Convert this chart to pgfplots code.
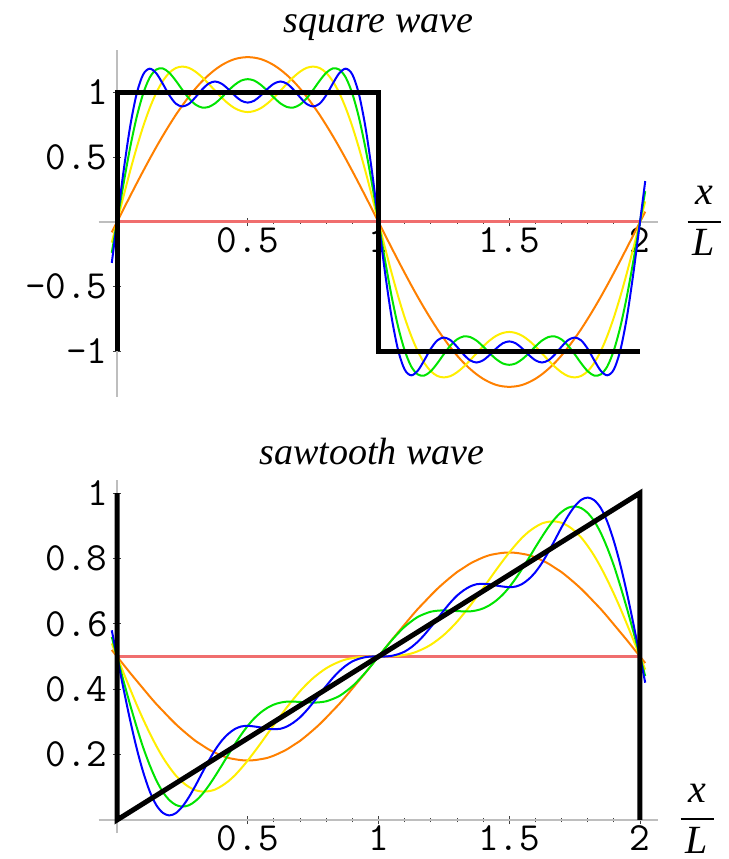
\documentclass[border=0pt]{standalone}
\usepackage{pgfplots}
\pgfplotsset{compat=1.18}
\usepackage{pgfplotstable}
\usepackage{fontspec}
\setmainfont{Liberation Serif}

\definecolor{axisgray}{RGB}{190,190,190}
\definecolor{ordzero}{RGB}{240,110,110}
\definecolor{ordone}{RGB}{255,128,0}
\definecolor{ordtwo}{RGB}{255,238,0}
\definecolor{ordthree}{RGB}{0,228,0}
\definecolor{ordfour}{RGB}{0,0,255}

% Partial Fourier sums of the square wave, 1 to 4 odd harmonics
\pgfplotstableread{
x o y g b
-0.02 -0.080 -0.159 -0.238 -0.316
0 0 0 0 0
0.025 0.100 0.199 0.296 0.391
0.05 0.199 0.392 0.572 0.734
0.075 0.297 0.573 0.808 0.989
0.1 0.393 0.737 0.991 1.139
0.125 0.487 0.879 1.115 1.184
0.15 0.578 0.997 1.177 1.149
0.175 0.665 1.088 1.186 1.068
0.2 0.748 1.152 1.152 0.979
0.225 0.827 1.189 1.091 0.914
0.25 0.900 1.200 1.020 0.892
0.275 0.968 1.190 0.955 0.912
0.3 1.030 1.161 0.907 0.963
0.325 1.086 1.119 0.884 1.022
0.35 1.134 1.068 0.888 1.068
0.375 1.176 1.014 0.916 1.085
0.4 1.211 0.961 0.961 1.068
0.425 1.238 0.915 1.013 1.027
0.45 1.258 0.879 1.059 0.977
0.475 1.269 0.857 1.092 0.937
0.5 1.273 0.849 1.103 0.922
0.525 1.269 0.857 1.092 0.937
0.55 1.258 0.879 1.059 0.977
0.575 1.238 0.915 1.013 1.027
0.6 1.211 0.961 0.961 1.068
0.625 1.176 1.014 0.916 1.085
0.65 1.134 1.068 0.888 1.068
0.675 1.086 1.119 0.884 1.022
0.7 1.030 1.161 0.907 0.963
0.725 0.968 1.190 0.955 0.912
0.75 0.900 1.200 1.020 0.892
0.775 0.827 1.189 1.091 0.914
0.8 0.748 1.152 1.152 0.979
0.825 0.665 1.088 1.186 1.068
0.85 0.578 0.997 1.177 1.149
0.875 0.487 0.879 1.115 1.184
0.9 0.393 0.737 0.991 1.139
0.925 0.297 0.573 0.808 0.989
0.95 0.199 0.392 0.572 0.734
0.975 0.100 0.199 0.296 0.391
1 0 0 0 0
1.025 -0.100 -0.199 -0.296 -0.391
1.05 -0.199 -0.392 -0.572 -0.734
1.075 -0.297 -0.573 -0.808 -0.989
1.1 -0.393 -0.737 -0.991 -1.139
1.125 -0.487 -0.879 -1.115 -1.184
1.15 -0.578 -0.997 -1.177 -1.149
1.175 -0.665 -1.088 -1.186 -1.068
1.2 -0.748 -1.152 -1.152 -0.979
1.225 -0.827 -1.189 -1.091 -0.914
1.25 -0.900 -1.200 -1.020 -0.892
1.275 -0.968 -1.190 -0.955 -0.912
1.3 -1.030 -1.161 -0.907 -0.963
1.325 -1.086 -1.119 -0.884 -1.022
1.35 -1.134 -1.068 -0.888 -1.068
1.375 -1.176 -1.014 -0.916 -1.085
1.4 -1.211 -0.961 -0.961 -1.068
1.425 -1.238 -0.915 -1.013 -1.027
1.45 -1.258 -0.879 -1.059 -0.977
1.475 -1.269 -0.857 -1.092 -0.937
1.5 -1.273 -0.849 -1.103 -0.922
1.525 -1.269 -0.857 -1.092 -0.937
1.55 -1.258 -0.879 -1.059 -0.977
1.575 -1.238 -0.915 -1.013 -1.027
1.6 -1.211 -0.961 -0.961 -1.068
1.625 -1.176 -1.014 -0.916 -1.085
1.65 -1.134 -1.068 -0.888 -1.068
1.675 -1.086 -1.119 -0.884 -1.022
1.7 -1.030 -1.161 -0.907 -0.963
1.725 -0.968 -1.190 -0.955 -0.912
1.75 -0.900 -1.200 -1.020 -0.892
1.775 -0.827 -1.189 -1.091 -0.914
1.8 -0.748 -1.152 -1.152 -0.979
1.825 -0.665 -1.088 -1.186 -1.068
1.85 -0.578 -0.997 -1.177 -1.149
1.875 -0.487 -0.879 -1.115 -1.184
1.9 -0.393 -0.737 -0.991 -1.139
1.925 -0.297 -0.573 -0.808 -0.989
1.95 -0.199 -0.392 -0.572 -0.734
1.975 -0.100 -0.199 -0.296 -0.391
2 0 0 0 0
2.02 0.080 0.159 0.238 0.316
}\squaretable

% Partial Fourier sums of the sawtooth wave, 1 to 4 harmonics
\pgfplotstableread{
x o y g b
-0.02 0.520 0.540 0.560 0.580
0 0.5 0.5 0.5 0.5
0.025 0.475 0.450 0.425 0.401
0.05 0.450 0.401 0.353 0.306
0.075 0.426 0.353 0.285 0.220
0.1 0.402 0.308 0.222 0.147
0.125 0.378 0.266 0.168 0.088
0.15 0.355 0.227 0.122 0.046
0.175 0.334 0.192 0.086 0.022
0.2 0.313 0.162 0.061 0.014
0.225 0.293 0.136 0.046 0.021
0.25 0.275 0.116 0.041 0.041
0.275 0.258 0.101 0.045 0.070
0.3 0.242 0.091 0.058 0.105
0.325 0.229 0.087 0.078 0.143
0.35 0.216 0.088 0.104 0.180
0.375 0.206 0.093 0.134 0.214
0.4 0.197 0.104 0.166 0.242
0.425 0.190 0.118 0.199 0.263
0.45 0.186 0.136 0.231 0.278
0.475 0.183 0.158 0.261 0.286
0.5 0.182 0.182 0.288 0.288
0.525 0.183 0.208 0.311 0.286
0.55 0.186 0.235 0.329 0.283
0.575 0.190 0.263 0.343 0.279
0.6 0.197 0.291 0.353 0.278
0.625 0.206 0.318 0.359 0.279
0.65 0.216 0.345 0.362 0.286
0.675 0.229 0.370 0.362 0.298
0.7 0.242 0.394 0.361 0.314
0.725 0.258 0.415 0.360 0.335
0.75 0.275 0.434 0.359 0.359
0.775 0.293 0.450 0.360 0.385
0.8 0.313 0.464 0.363 0.410
0.825 0.334 0.475 0.370 0.434
0.85 0.355 0.484 0.379 0.455
0.875 0.378 0.491 0.393 0.472
0.9 0.402 0.495 0.409 0.485
0.925 0.426 0.498 0.429 0.493
0.95 0.450 0.499 0.451 0.498
0.975 0.475 0.500 0.475 0.500
1 0.5 0.5 0.5 0.5
1.025 0.525 0.500 0.525 0.500
1.05 0.550 0.501 0.549 0.502
1.075 0.574 0.502 0.571 0.507
1.1 0.598 0.505 0.591 0.515
1.125 0.622 0.509 0.607 0.528
1.15 0.645 0.516 0.621 0.545
1.175 0.666 0.525 0.630 0.566
1.2 0.687 0.536 0.637 0.590
1.225 0.707 0.550 0.640 0.615
1.25 0.725 0.566 0.641 0.641
1.275 0.742 0.585 0.640 0.665
1.3 0.758 0.606 0.639 0.686
1.325 0.771 0.630 0.638 0.702
1.35 0.784 0.655 0.638 0.714
1.375 0.794 0.682 0.641 0.721
1.4 0.803 0.709 0.647 0.722
1.425 0.810 0.737 0.657 0.721
1.45 0.814 0.765 0.671 0.717
1.475 0.817 0.792 0.689 0.714
1.5 0.818 0.818 0.712 0.712
1.525 0.817 0.842 0.739 0.714
1.55 0.814 0.864 0.769 0.722
1.575 0.810 0.882 0.801 0.737
1.6 0.803 0.896 0.834 0.758
1.625 0.794 0.907 0.866 0.786
1.65 0.784 0.912 0.896 0.820
1.675 0.771 0.913 0.922 0.857
1.7 0.758 0.909 0.942 0.895
1.725 0.742 0.899 0.955 0.930
1.75 0.725 0.884 0.959 0.959
1.775 0.707 0.864 0.954 0.979
1.8 0.687 0.838 0.939 0.986
1.825 0.666 0.808 0.914 0.978
1.85 0.645 0.773 0.878 0.954
1.875 0.622 0.734 0.832 0.912
1.9 0.598 0.692 0.778 0.853
1.925 0.574 0.647 0.715 0.780
1.95 0.550 0.599 0.647 0.694
1.975 0.525 0.550 0.575 0.599
2 0.5 0.5 0.5 0.5
2.02 0.480 0.460 0.440 0.420
}\sawtable

\pgfplotsset{
  fourier/.style={
    set layers, clip=false, enlargelimits=false,
    axis lines=middle,
    axis line style={-, draw=axisgray, line width=1pt},
    every inner x axis line/.append style={-},
    every inner y axis line/.append style={-},
    anchor=south west, x=130.75pt,
    xmin=-0.07, xmax=2.07,
    xtick={0.5,1,1.5,2}, xticklabels={0.5,1,1.5,2},
    minor x tick num=4,
    tick style={black!75, line width=0.4pt},
    major tick length=4pt, minor tick length=2pt,
    tick label style={font=\ttfamily\fontsize{20}{20}\selectfont},
    xticklabel style={anchor=north, inner sep=0.5pt},
    yticklabel style={anchor=east, inner sep=2.5pt},
  },
  partial/.style={smooth, line width=1pt},
  exact/.style={black, line width=2.5pt, line join=miter},
}
\tikzset{
  fracpart/.style={font=\itshape\fontsize{20}{20}\selectfont, anchor=base, inner sep=0pt},
}

% x over L, stacked at the right end of the x axis
\newcommand{\xoverL}[1]{%
  \node[inner sep=0pt] (bar) at (#1) {\rule{16.5pt}{1.2pt}};
  \node[fracpart] at ([yshift=8.5pt]bar.center) {x};
  \node[fracpart] at ([yshift=-17pt]bar.center) {L};
}

\begin{document}
\begin{tikzpicture}

% square wave
\begin{axis}[fourier,
  at={(49.3475pt,231.0875pt)}, y=64.75pt,
  ymin=-1.35, ymax=1.33,
  ytick={-1,-0.5,0.5,1}, yticklabels={-1,-0.5,0.5,1},
  minor y tick num=4]
\addplot[ordzero, line width=1.5pt] coordinates {(0,0) (2,0)};
\addplot[partial, ordone] table[x=x, y=o] {\squaretable};
\addplot[partial, ordtwo] table[x=x, y=y] {\squaretable};
\addplot[partial, ordthree] table[x=x, y=g] {\squaretable};
\addplot[partial, ordfour] table[x=x, y=b] {\squaretable};
\addplot[exact] coordinates {(0,-1) (0,1) (1,1) (1,-1) (2,-1)};
\node[font=\itshape\fontsize{19}{19}\selectfont, anchor=base]
  at (axis cs:1.0,1.46) {square wave};
\xoverL{axis cs:2.245,0}
\end{axis}

% sawtooth wave
\begin{axis}[fourier,
  at={(49.3475pt,12.96pt)}, y=163.5pt,
  ymin=-0.04, ymax=1.04,
  ytick={0.2,0.4,0.6,0.8,1}, yticklabels={0.2,0.4,0.6,0.8,1},
  minor y tick num=3]
\addplot[ordzero, line width=1.5pt] coordinates {(0,0.5) (2,0.5)};
\addplot[partial, ordone] table[x=x, y=o] {\sawtable};
\addplot[partial, ordtwo] table[x=x, y=y] {\sawtable};
\addplot[partial, ordthree] table[x=x, y=g] {\sawtable};
\addplot[partial, ordfour] table[x=x, y=b] {\sawtable};
\addplot[exact] coordinates {(0,1) (0,0) (2,1) (2,0)};
\node[font=\itshape\fontsize{19}{19}\selectfont, anchor=base]
  at (axis cs:0.975,1.086) {sawtooth wave};
\xoverL{axis cs:2.218,0.003}
\end{axis}

% page frame
\pgfresetboundingbox
\path[use as bounding box] (0,0) rectangle (364.5pt,429.5pt);
\end{tikzpicture}
\end{document}
